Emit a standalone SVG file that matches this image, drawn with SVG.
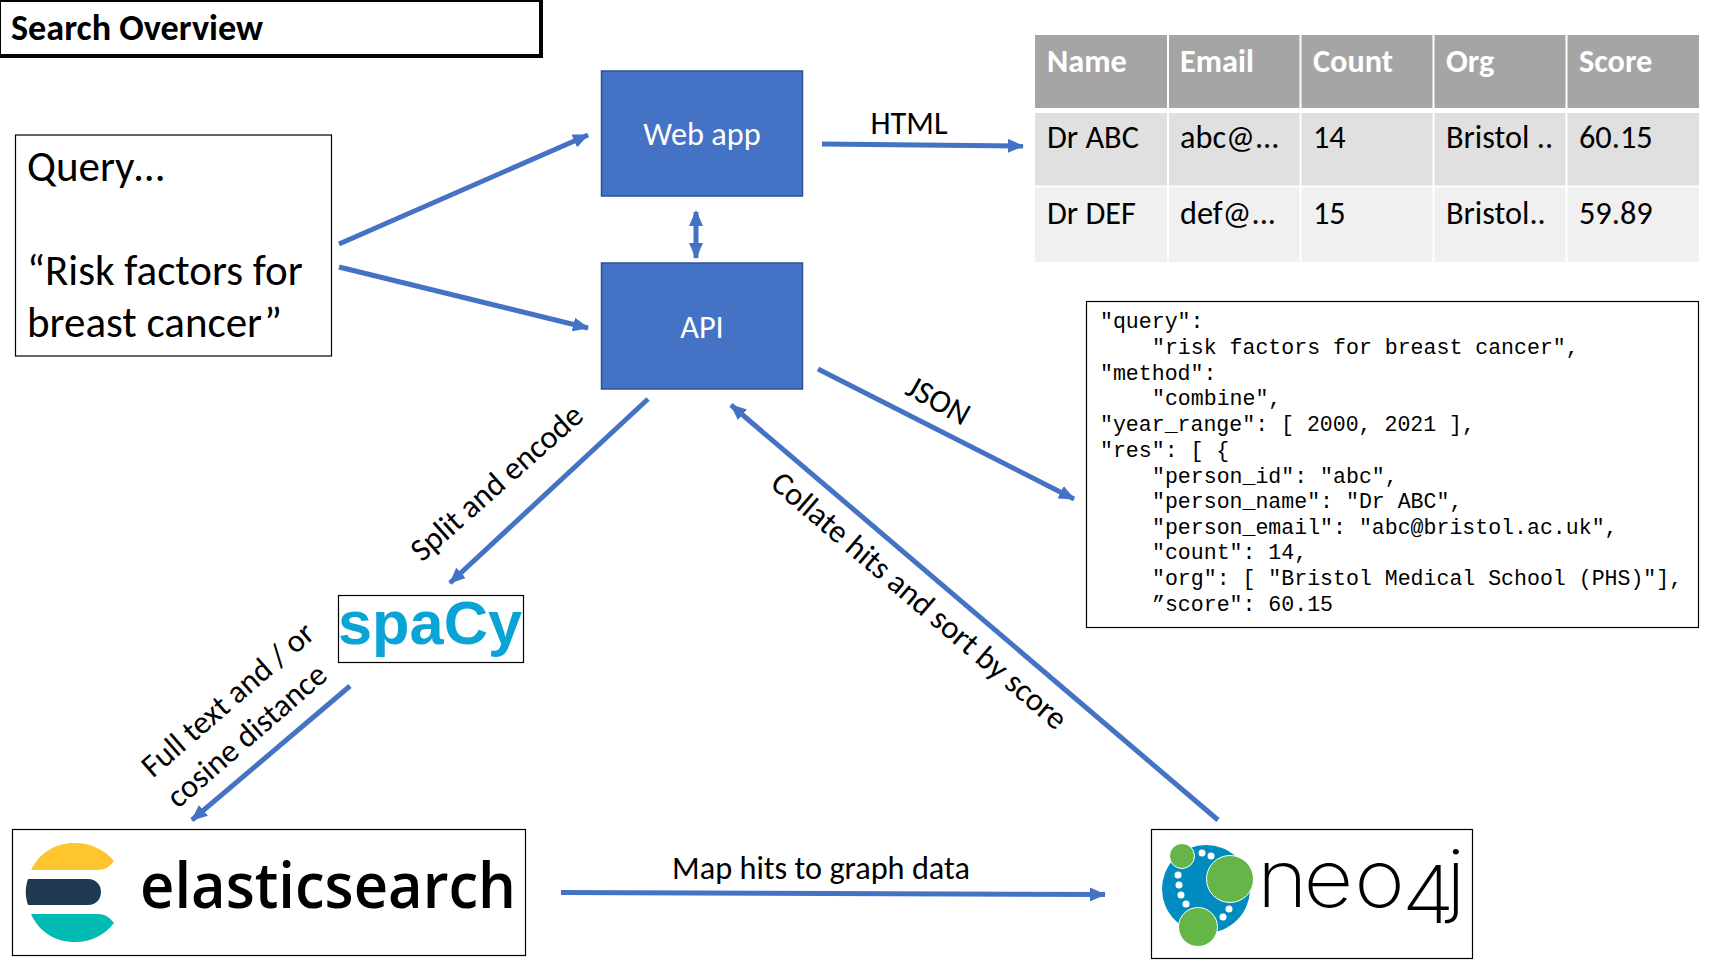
<svg xmlns="http://www.w3.org/2000/svg" width="1720" height="968" viewBox="0 0 1720 968">
<style>
text{font-family:"Carlito","Lato","Noto Sans",sans-serif;fill:#000}
.box{fill:#fff;stroke:#000;stroke-width:1.2}
.blue{fill:#4472c4;stroke:#2f528f;stroke-width:1.5}
.w{fill:#fff;font-size:32.300px;text-anchor:middle}
.lbl{font-size:32.300px;text-anchor:middle}
.q{font-size:43px}
.th{fill:#fff;font-size:32.300px;font-weight:700}
.td{font-size:32.300px}
.mono{font-family:"Liberation Mono",monospace;font-size:21.550px}
.c{fill:none;stroke:#4472c4;stroke-width:5;marker-end:url(#a)}
.d{fill:#fff}
.hd{fill:#a5a5a5}.r1{fill:#e0e0e0}.r2{fill:#f0f0f0}
</style>
<defs>
<marker id="a" markerUnits="userSpaceOnUse" markerWidth="17" markerHeight="14" refX="15" refY="7" orient="auto"><path d="M0 0L16 7L0 14Z" fill="#4472c4"/></marker>
<marker id="b" markerUnits="userSpaceOnUse" markerWidth="17" markerHeight="14" refX="2" refY="7" orient="auto"><path d="M16 0L0 7L16 14Z" fill="#4472c4"/></marker>
</defs>
<g id="title"><rect x="-1" y="0" width="542" height="56" fill="#fff" stroke="#000" stroke-width="4"/><text x="11" y="40" font-size="36.200" font-weight="700">Search Overview</text></g>
<g id="query"><rect class="box" x="15.500" y="135" width="316" height="221"/>
<text class="q" x="27" y="180.500">Query…</text><text class="q" x="27" y="284.500">“Risk factors for</text><text class="q" x="27" y="336.500">breast cancer”</text></g>
<g id="webapp"><rect class="blue" x="601.500" y="71" width="201" height="125"/><text class="w" x="702" y="144.500">Web app</text></g>
<g id="api"><rect class="blue" x="601.500" y="263" width="201" height="126"/><text class="w" x="702" y="337.500">API</text></g>
<g id="results-table">
<rect class="hd" x="1035" y="35" width="132" height="73"/><rect class="hd" x="1169" y="35" width="130.500" height="73"/><rect class="hd" x="1301.500" y="35" width="131" height="73"/><rect class="hd" x="1434.500" y="35" width="131" height="73"/><rect class="hd" x="1567.500" y="35" width="131.500" height="73"/>
<rect class="r1" x="1035" y="113" width="132" height="72.500"/><rect class="r1" x="1169" y="113" width="130.500" height="72.500"/><rect class="r1" x="1301.500" y="113" width="131" height="72.500"/><rect class="r1" x="1434.500" y="113" width="131" height="72.500"/><rect class="r1" x="1567.500" y="113" width="131.500" height="72.500"/>
<rect class="r2" x="1035" y="187.500" width="132" height="74.500"/><rect class="r2" x="1169" y="187.500" width="130.500" height="74.500"/><rect class="r2" x="1301.500" y="187.500" width="131" height="74.500"/><rect class="r2" x="1434.500" y="187.500" width="131" height="74.500"/><rect class="r2" x="1567.500" y="187.500" width="131.500" height="74.500"/>
<text class="th" x="1047" y="71.500">Name</text><text class="th" x="1180" y="71.500">Email</text><text class="th" x="1313" y="71.500">Count</text><text class="th" x="1446" y="71.500">Org</text><text class="th" x="1579" y="71.500">Score</text>
<text class="td" x="1047" y="147.500">Dr ABC</text><text class="td" x="1180" y="147.500">abc@...</text><text class="td" x="1313" y="147.500">14</text><text class="td" x="1446" y="147.500">Bristol ..</text><text class="td" x="1579" y="147.500">60.15</text>
<text class="td" x="1047" y="223.500">Dr DEF</text><text class="td" x="1180" y="223.500">def@...</text><text class="td" x="1313" y="223.500">15</text><text class="td" x="1446" y="223.500">Bristol..</text><text class="td" x="1579" y="223.500">59.89</text>
</g>
<g id="json"><rect class="box" x="1086.500" y="301.500" width="612" height="326"/>
<text class="mono" x="1100" y="328">"query":</text>
<text class="mono" x="1152" y="354">"risk factors for breast cancer",</text>
<text class="mono" x="1100" y="380">"method":</text>
<text class="mono" x="1152" y="405">"combine",</text>
<text class="mono" x="1100" y="431">"year_range": [ 2000, 2021 ],</text>
<text class="mono" x="1100" y="457">"res": [ {</text>
<text class="mono" x="1152" y="483">"person_id": "abc",</text>
<text class="mono" x="1152" y="508">"person_name": "Dr ABC",</text>
<text class="mono" x="1152" y="534">"person_email": "abc@bristol.ac.uk",</text>
<text class="mono" x="1152" y="559">"count": 14,</text>
<text class="mono" x="1152" y="585">"org": [ "Bristol Medical School (PHS)"],</text>
<text class="mono" x="1152" y="611">”score": 60.15</text></g>
<g id="spacy"><rect class="box" x="338.500" y="595.500" width="185" height="67"/><text x="338" y="644" font-size="62" font-weight="700" style="font-family:'Liberation Sans',sans-serif;fill:#09a3d5" textLength="184" lengthAdjust="spacingAndGlyphs">spaCy</text></g>
<g id="elasticsearch"><rect class="box" x="12.500" y="829.500" width="513" height="126"/>
<path d="M31 870C39 853 55 843 75 843C91 843 105 850 114 861C110 866 106 870 98 870Z" fill="#fec52e"/>
<path d="M36 879H88C96 879 101 885 101 892C101 899 96 905 88 905H28C25 896 25 888 28 879Z" fill="#1f3a50"/>
<path d="M31 914H98C106 914 110 918 114 923C105 935 91 942 75 942C55 942 39 932 31 914Z" fill="#00bbb1"/>
<text x="140" y="908" font-size="64" style="font-family:'Open Sans',sans-serif" font-weight="600" textLength="376" lengthAdjust="spacingAndGlyphs">elasticsearch</text></g>
<g id="neo4j"><rect class="box" x="1151.500" y="829.500" width="321" height="129"/>
<circle cx="1206" cy="889" r="44" fill="#008cc1"/>
<g stroke="#fff" stroke-width="1" fill="#66b548"><circle cx="1182" cy="856" r="12.500"/><circle cx="1230" cy="879" r="23.500"/><circle cx="1198" cy="927" r="19.500"/></g>
<circle class="d" cx="1202" cy="853" r="3.500"/><circle class="d" cx="1211" cy="856" r="3.500"/><circle class="d" cx="1178" cy="875" r="3.500"/><circle class="d" cx="1179" cy="885" r="3.500"/><circle class="d" cx="1181" cy="895" r="3.500"/><circle class="d" cx="1186" cy="904" r="3.500"/><circle class="d" cx="1229" cy="909" r="3.500"/><circle class="d" cx="1223" cy="917" r="3.500"/>
<text transform="translate(1257 907) scale(1.080 1)" x="0" y="0" font-size="80" style="font-family:'Inter',sans-serif" font-weight="200">n<tspan x="43">e</tspan><tspan x="90">o</tspan><tspan x="134" y="16">4</tspan><tspan x="175" y="0">j</tspan></text></g>
<g id="connectors">
<path class="c" d="M339 244L588 135"/>
<path class="c" d="M339 267L588 328"/>
<path class="c" d="M822 144L1023 146"/>
<path class="c" style="marker-start:url(#b)" d="M696 212V258"/>
<path class="c" d="M818 369L1074 499"/>
<path class="c" d="M648 399L450 583"/>
<path class="c" d="M350 686L192 820"/>
<path class="c" d="M561 892.500L1105 894.500"/>
<path class="c" d="M1218 820L731 405"/>
</g>
<g id="labels">
<text class="lbl" x="909" y="133.500">HTML</text>
<text class="lbl" transform="translate(938 401) rotate(29)" x="0" y="10">JSON</text>
<text class="lbl" transform="translate(497 483) rotate(-41.500)" x="0" y="10">Split and encode</text>
<text class="lbl" transform="translate(228 700) rotate(-41)" x="0" y="10">Full text and / or</text>
<text class="lbl" transform="translate(247 736) rotate(-41)" x="0" y="10">cosine distance</text>
<text class="lbl" transform="translate(919 601) rotate(40.500)" x="0" y="10">Collate hits and sort by score</text>
<text class="lbl" x="821" y="878.500">Map hits to graph data</text>
</g>
</svg>
